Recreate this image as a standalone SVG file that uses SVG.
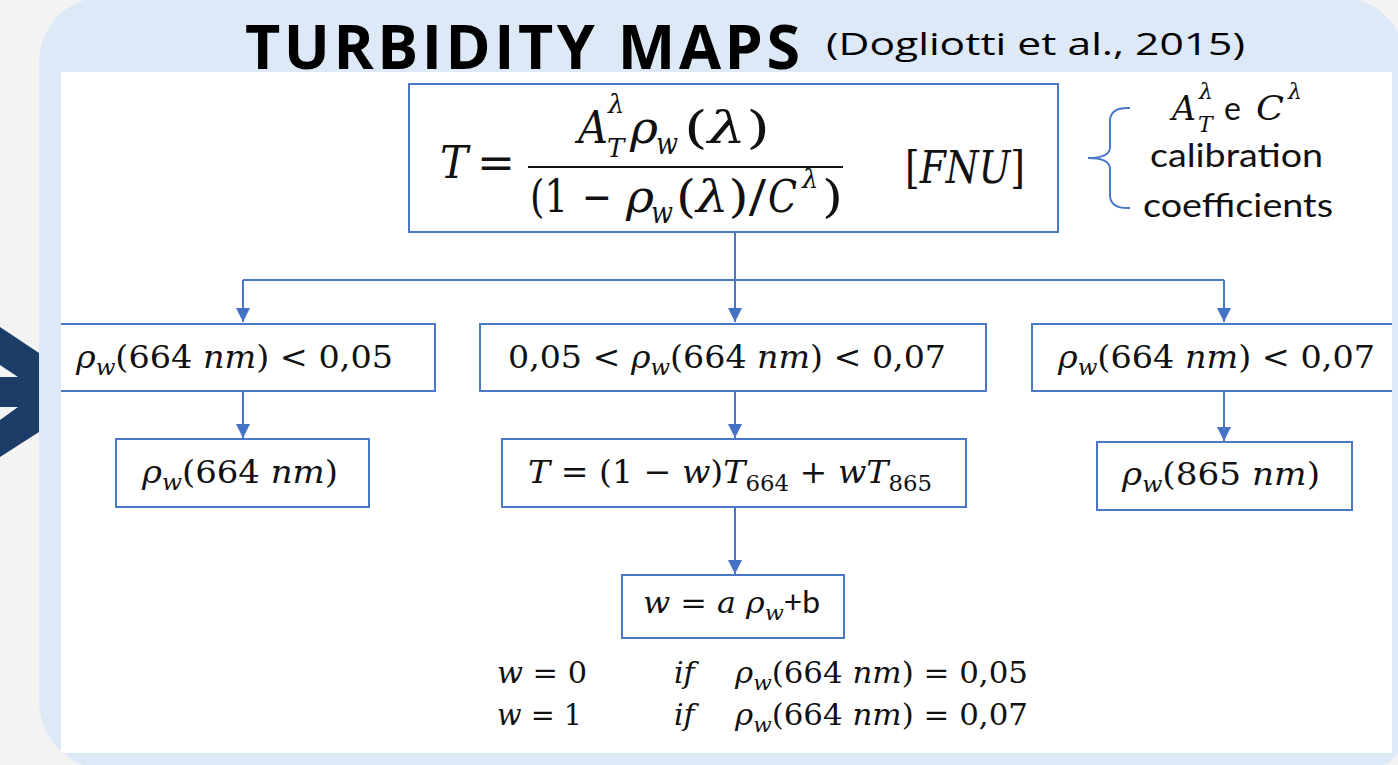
<svg xmlns="http://www.w3.org/2000/svg" width="1398" height="765" viewBox="0 0 1398 765">
<defs>
<style>
.m{font-family:"DejaVu Serif","Liberation Serif",serif;fill:#111;}
.i{font-style:italic;}
.sans{font-family:Lato,"Liberation Sans",sans-serif;fill:#111;}
.box{fill:#fff;stroke:#4a78c8;stroke-width:2;}
.con{fill:none;stroke:#4a78c8;stroke-width:2;}
</style>
<marker id="ah" markerUnits="userSpaceOnUse" markerWidth="14" markerHeight="16" refX="14" refY="7" orient="auto">
<path d="M0,0 L14,7 L0,14 Z" fill="#4472c4"/>
</marker>
<clipPath id="inner"><rect x="61" y="72" width="1331" height="681"/></clipPath>
</defs>
<rect x="0" y="0" width="1398" height="765" fill="#f3f3f3"/>
<g id="chevron">
<polygon points="0,327 39,353 39,432 0,457" fill="#1b3d68"/>
<polygon points="0,365 18,377 0,377" fill="#f3f3f3"/>
<polygon points="0,407 18,407 0,420" fill="#f3f3f3"/>
</g>
<path id="panel" d="M39,62 A65,65 0 0 1 104,-3 L1340,-3 A65,65 0 0 1 1405,62 L1405,730 A40,40 0 0 1 1365,770 L109,770 A70,70 0 0 1 39,700 Z" fill="#dde9f6"/>
<rect x="61" y="72" width="1331" height="681" fill="#fff"/>
<g id="title">
<text x="245" y="69" font-family="'Open Sans',sans-serif" font-weight="700" font-size="61" textLength="555" lengthAdjust="spacing" fill="#000">TURBIDITY MAPS</text>
<text x="826" y="55" font-family="'Open Sans',sans-serif" font-size="31" textLength="419" lengthAdjust="spacingAndGlyphs" fill="#000">(Dogliotti et al., 2015)</text>
</g>
<g clip-path="url(#inner)">
<g id="connectors">
<path class="con" d="M243,280 L1224,280" stroke="#6f93d4" stroke-width="3"/>
<path class="con" d="M735,233 L735,322" marker-end="url(#ah)"/>
<path class="con" d="M243,280 L243,322" marker-end="url(#ah)"/>
<path class="con" d="M1224,280 L1224,322" marker-end="url(#ah)"/>
<path class="con" d="M243,392 L243,438" marker-end="url(#ah)"/>
<path class="con" d="M735,391 L735,438" marker-end="url(#ah)"/>
<path class="con" d="M1224,391 L1224,441" marker-end="url(#ah)"/>
<path class="con" d="M735,507 L735,574" marker-end="url(#ah)"/>
</g>
<g id="main">
<rect class="box" x="409" y="84" width="649" height="148"/>
<text class="m i" x="440" y="178" font-size="44" textLength="28" lengthAdjust="spacingAndGlyphs">T</text>
<text class="m" x="477" y="178" font-size="44" textLength="38" lengthAdjust="spacingAndGlyphs">=</text>
<text class="m i" x="578" y="143" font-size="44" textLength="30" lengthAdjust="spacingAndGlyphs">A</text>
<text class="m i" x="608" y="113" font-size="26">λ</text>
<text class="m i" x="607" y="157" font-size="26">T</text>
<text class="m i" x="630" y="143" font-size="44" textLength="28" lengthAdjust="spacingAndGlyphs">ρ</text>
<text class="m i" x="656" y="154" font-size="30" textLength="22" lengthAdjust="spacingAndGlyphs">w</text>
<text class="m" x="684" y="143" font-size="44" textLength="86" lengthAdjust="spacingAndGlyphs">(<tspan class="i">λ</tspan>)</text>
<line x1="528" y1="167" x2="843" y2="167" stroke="#111" stroke-width="2"/>
<text class="m" x="530" y="212" font-size="44" textLength="38" lengthAdjust="spacingAndGlyphs">(1</text>
<text class="m" x="582" y="212" font-size="44" textLength="30" lengthAdjust="spacingAndGlyphs">−</text>
<text class="m i" x="626" y="212" font-size="44" textLength="28" lengthAdjust="spacingAndGlyphs">ρ</text>
<text class="m i" x="651" y="223" font-size="30" textLength="22" lengthAdjust="spacingAndGlyphs">w</text>
<text class="m" x="676" y="212" font-size="44" textLength="90" lengthAdjust="spacingAndGlyphs">(<tspan class="i">λ</tspan>)/</text>
<text class="m i" x="768" y="212" font-size="44" textLength="29" lengthAdjust="spacingAndGlyphs">C</text>
<text class="m i" x="802" y="188" font-size="26">λ</text>
<text class="m" x="822" y="212" font-size="44" textLength="21" lengthAdjust="spacingAndGlyphs">)</text>
<text class="m" x="905" y="183" font-size="44" textLength="120" lengthAdjust="spacingAndGlyphs">[<tspan class="i">FNU</tspan>]</text>
</g>
<g id="note">
<path class="con" d="M1130,108 Q1111,107 1110,120 L1110,148 Q1109,158 1088,158 Q1109,158 1110,168 L1110,196 Q1111,209 1130,208"/>
<text class="m i" x="1172" y="120" font-size="34" textLength="24" lengthAdjust="spacingAndGlyphs">A</text>
<text class="m i" x="1199" y="99" font-size="22">λ</text>
<text class="m i" x="1198" y="132" font-size="22">T</text>
<text class="sans" x="1224" y="120" font-size="32">e</text>
<text class="m i" x="1256" y="120" font-size="34" textLength="28" lengthAdjust="spacingAndGlyphs">C</text>
<text class="m i" x="1288" y="99" font-size="22">λ</text>
<text class="sans" x="1150" y="167" font-size="32" textLength="173" lengthAdjust="spacingAndGlyphs">calibration</text>
<text class="sans" x="1143" y="217" font-size="32" textLength="190" lengthAdjust="spacingAndGlyphs">coefficients</text>
</g>
<g id="boxL">
<rect class="box" x="50" y="324" width="385" height="67"/>
<text class="m" x="76" y="368" font-size="32" textLength="317" lengthAdjust="spacingAndGlyphs"><tspan class="i">ρ</tspan><tspan class="i" font-size="22" dy="7">w</tspan><tspan dy="-7">(664 </tspan><tspan class="i">nm</tspan>) &lt; 0,05</text>
</g>
<g id="boxM">
<rect class="box" x="480" y="324" width="506" height="67"/>
<text class="m" x="508" y="368" font-size="32" textLength="438" lengthAdjust="spacingAndGlyphs">0,05 &lt; <tspan class="i">ρ</tspan><tspan class="i" font-size="22" dy="7">w</tspan><tspan dy="-7">(664 </tspan><tspan class="i">nm</tspan>) &lt; 0,07</text>
</g>
<g id="boxR">
<rect class="box" x="1032" y="324" width="380" height="67"/>
<text class="m" x="1058" y="368" font-size="32" textLength="317" lengthAdjust="spacingAndGlyphs"><tspan class="i">ρ</tspan><tspan class="i" font-size="22" dy="7">w</tspan><tspan dy="-7">(664 </tspan><tspan class="i">nm</tspan>) &lt; 0,07</text>
</g>
<g id="boxL2">
<rect class="box" x="116" y="439" width="253" height="68"/>
<text class="m" x="142" y="483" font-size="32" textLength="196" lengthAdjust="spacingAndGlyphs"><tspan class="i">ρ</tspan><tspan class="i" font-size="22" dy="7">w</tspan><tspan dy="-7">(664 </tspan><tspan class="i">nm</tspan>)</text>
</g>
<g id="boxM2">
<rect class="box" x="502" y="439" width="464" height="68"/>
<text class="m" x="528" y="483" font-size="32" textLength="404" lengthAdjust="spacingAndGlyphs"><tspan class="i">T</tspan> = (1 − <tspan class="i">w</tspan>)<tspan class="i">T</tspan><tspan font-size="22" dy="8">664</tspan><tspan dy="-8"> + </tspan><tspan class="i">wT</tspan><tspan font-size="22" dy="8">865</tspan></text>
</g>
<g id="boxR2">
<rect class="box" x="1097" y="442" width="255" height="68"/>
<text class="m" x="1122" y="485" font-size="32" textLength="198" lengthAdjust="spacingAndGlyphs"><tspan class="i">ρ</tspan><tspan class="i" font-size="22" dy="7">w</tspan><tspan dy="-7">(865 </tspan><tspan class="i">nm</tspan>)</text>
</g>
<g id="boxW">
<rect class="box" x="622" y="575" width="222" height="63"/>
<text class="m" x="643" y="613" font-size="30" textLength="177" lengthAdjust="spacingAndGlyphs"><tspan class="i">w</tspan> = <tspan class="i">a ρ</tspan><tspan class="i" font-size="21" dy="7">w</tspan><tspan dy="-7" font-family="Lato,'Liberation Sans',sans-serif">+b</tspan></text>
</g>
<g id="conditions">
<text class="m" x="497" y="683" font-size="30" textLength="90" lengthAdjust="spacingAndGlyphs"><tspan class="i">w</tspan> = 0</text>
<text class="m i" x="674" y="683" font-size="30">if</text>
<text class="m" x="735" y="683" font-size="30" textLength="293" lengthAdjust="spacingAndGlyphs"><tspan class="i">ρ</tspan><tspan class="i" font-size="21" dy="7">w</tspan><tspan dy="-7">(664 </tspan><tspan class="i">nm</tspan>) = 0,05</text>
<text class="m" x="497" y="725" font-size="30" textLength="85" lengthAdjust="spacingAndGlyphs"><tspan class="i">w</tspan> = 1</text>
<text class="m i" x="674" y="725" font-size="30">if</text>
<text class="m" x="735" y="725" font-size="30" textLength="293" lengthAdjust="spacingAndGlyphs"><tspan class="i">ρ</tspan><tspan class="i" font-size="21" dy="7">w</tspan><tspan dy="-7">(664 </tspan><tspan class="i">nm</tspan>) = 0,07</text>
</g>
</g>
</svg>
